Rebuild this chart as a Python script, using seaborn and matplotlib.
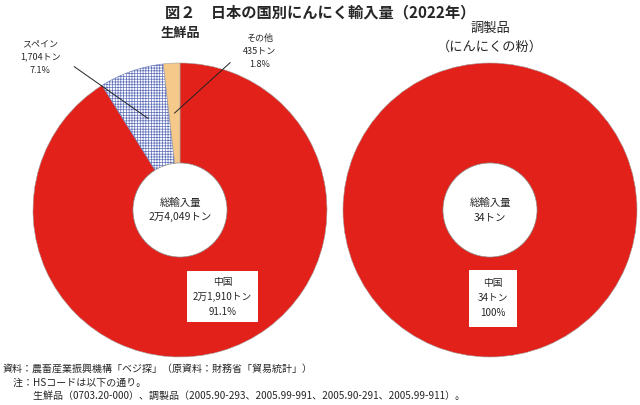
import numpy as np
import matplotlib
matplotlib.use("Agg")
import matplotlib.pyplot as plt
import seaborn as sns

# data
fresh_labels = ['中国', 'スペイン', 'その他']
fresh_tons = [21910, 1704, 435]
fresh_share = ['91.1%', '7.1%', '1.8%']
proc_labels = ['中国']
proc_tons = [34]
proc_share = ['100%']

title = '図２　日本の国別にんにく輸入量（2022年）'
notes = ['資料：農畜産業振興機構「ベジ探」（原資料：財務省「貿易統計」）',
         '　注：HSコードは以下の通り。',
         '　　　生鮮品（0703.20-000）、調製品（2005.90-293、2005.99-991、2005.90-291、2005.99-911）。']

sns.set_theme(style="white")
plt.rcParams['font.family'] = ['Noto Sans CJK JP', 'DejaVu Sans']
plt.rcParams['hatch.linewidth'] = 0.5

RED = '#e3211b'
TAN = '#f5c98a'
BLUE = '#6070bb'


def fmt_tons(t):
    if t >= 10000:
        return f"{t // 10000}万{t % 10000:,}トン"
    return f"{t:,}トン"


fig = plt.figure(figsize=(6.4, 4.05), dpi=100)
W, H = 640, 405
r_px = 147


def pie_axes(cx, cy):
    return fig.add_axes([(cx - r_px) / W, (H - cy - r_px) / H, 2 * r_px / W, 2 * r_px / H])


def draw_pie(ax, tons, colors, hatches):
    wedges, _ = ax.pie(tons, colors=colors, startangle=90, counterclock=False,
                       wedgeprops=dict(linewidth=0.4, edgecolor='#a0a0a0'))
    for w, h in zip(wedges, hatches):
        if h:
            w.set_facecolor('white')
            w.set_edgecolor(BLUE)
            w.set_hatch(h)
    ax.set_xlim(-1, 1)
    ax.set_ylim(-1, 1)
    ax.set_aspect('equal')
    ax.add_patch(plt.Circle((0, 0), 0.32, facecolor='white', edgecolor='#8a8a8a', lw=0.5, zorder=5))
    ax.text(0, 0, '総輸入量\n' + fmt_tons(sum(tons)), ha='center', va='center',
            fontsize=7.5, linespacing=1.6, zorder=6)
    return wedges


# left: fresh
axL = pie_axes(180, 210)
wL = draw_pie(axL, fresh_tons, [RED, 'white', TAN], [None, '++++++', None])
axL.text(0.29, -0.59, f"{fresh_labels[0]}\n{fmt_tons(fresh_tons[0])}\n{fresh_share[0]}",
         ha='center', va='center', fontsize=7, linespacing=1.6, zorder=6,
         bbox=dict(boxstyle='square,pad=0.6', facecolor='white', edgecolor='none'))

label_pos = {1: (-0.95, 1.04), 2: (0.54, 1.08)}
relpos = {1: (1.0, 0.5), 2: (0.0, 0.5)}
for i, (tx, ty) in label_pos.items():
    w = wL[i]
    mid = np.deg2rad((w.theta1 + w.theta2) / 2)
    axL.annotate(f"{fresh_labels[i]}\n{fmt_tons(fresh_tons[i])}\n{fresh_share[i]}",
                 xy=(0.66 * np.cos(mid), 0.66 * np.sin(mid)), xytext=(tx, ty),
                 ha='center', va='center', fontsize=6.5, linespacing=1.6,
                 annotation_clip=False, zorder=7,
                 arrowprops=dict(arrowstyle='-', color='#222222', lw=0.7,
                                 relpos=relpos[i], shrinkA=9, shrinkB=0))

# right: processed
axR = pie_axes(490, 210)
draw_pie(axR, proc_tons, [RED], [None])
axR.text(0.02, -0.6, f"{proc_labels[0]}\n{fmt_tons(proc_tons[0])}\n{proc_share[0]}",
         ha='center', va='center', fontsize=7, linespacing=1.6, zorder=6,
         bbox=dict(boxstyle='square,pad=0.9', facecolor='white', edgecolor='none'))

# titles
fig.text(0.5, 1 - 12 / H, title, ha='center', va='center', fontsize=11, fontweight='bold')
fig.text(180 / W, 1 - 33 / H, '生鮮品', ha='center', va='center', fontsize=9.5, fontweight='bold')
fig.text(490 / W, 1 - 28 / H, '調製品', ha='center', va='center', fontsize=9.5)
fig.text(490 / W, 1 - 47 / H, '（にんにくの粉）', ha='center', va='center', fontsize=9.5)

for k, line in enumerate(notes):
    fig.text(3 / W, 1 - (369 + 13.5 * k) / H, line, ha='left', va='center', fontsize=7.2)

fig.savefig('out.png', dpi=100)
